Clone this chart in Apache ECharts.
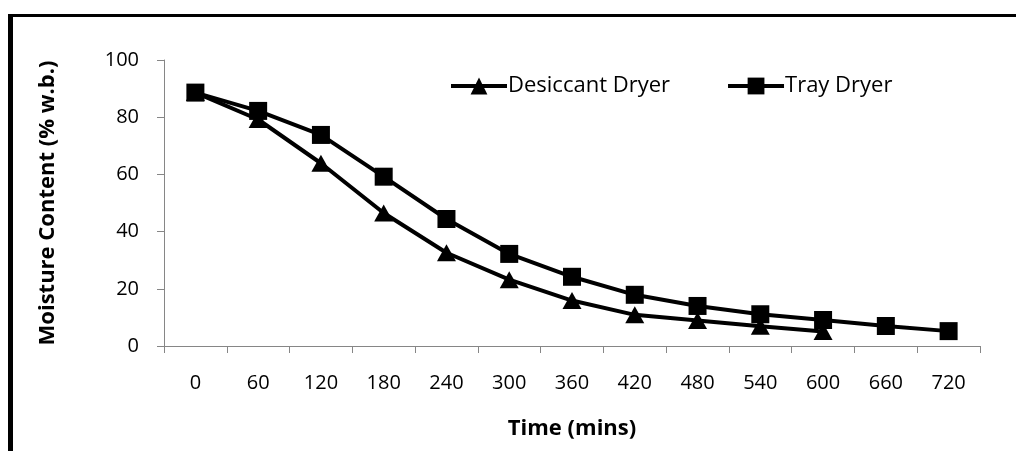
<!DOCTYPE html>
<html>
<head>
<meta charset="utf-8">
<script src="https://cdn.jsdelivr.net/npm/echarts@6/dist/echarts.min.js"></script>
<style>html,body{margin:0;padding:0;background:#fff;}#c{width:1016px;height:451px;}</style>
</head>
<body>
<div id="c"></div>
<script>
const categories = ['0','60','120','180','240','300','360','420','480','540','600','660','720'];
const desiccant = [88.6, 79.2, 63.9, 46.5, 32.6, 23.2, 15.9, 10.9, 8.9, 6.9, 5.1];
const tray = [88.6, 82.2, 73.8, 59.2, 44.4, 32.2, 24.2, 17.9, 14.0, 11.1, 9.1, 7.0, 5.2];
const yTicks = {min: 0, max: 100, interval: 20};

const font = '"Open Sans", "Noto Sans", sans-serif';
const chart = echarts.init(document.getElementById('c'), null, {renderer: 'canvas'});
chart.setOption({
  animation: false,
  backgroundColor: '#fff',
  graphic: [
    {type: 'line', shape: {x1: 10.5, y1: 14, x2: 10.5, y2: 460}, style: {stroke: '#000', lineWidth: 5}},
    {type: 'line', shape: {x1: 8, y1: 15.5, x2: 1030, y2: 15.5}, style: {stroke: '#000', lineWidth: 3}}
  ],
  grid: {left: 164, right: 36, top: 60, bottom: 105},
  legend: {
    top: 70, left: 444,
    itemGap: 56,
    itemWidth: 56, itemHeight: 21,
    lineStyle: {width: 4, color: '#000'},
    textStyle: {fontFamily: font, fontSize: 22, color: '#000', padding: [0,0,0,-4]},
    data: ['Desiccant Dryer', 'Tray Dryer']
  },
  xAxis: {
    type: 'category',
    data: categories,
    boundaryGap: true,
    name: 'Time (mins)',
    nameLocation: 'middle',
    nameGap: 72,
    nameTextStyle: {fontFamily: font, fontSize: 22, fontWeight: 'bold', color: '#000'},
    axisLine: {lineStyle: {color: '#868686', width: 1}},
    axisTick: {show: true, length: 7, lineStyle: {color: '#868686'}},
    axisLabel: {fontFamily: font, fontSize: 20, color: '#000', margin: 27}
  },
  yAxis: {
    type: 'value',
    min: yTicks.min, max: yTicks.max, interval: yTicks.interval,
    name: 'Moisture Content (% w.b.)',
    nameLocation: 'middle',
    nameGap: 105,
    nameTextStyle: {fontFamily: font, fontSize: 22, fontWeight: 'bold', color: '#000'},
    axisLine: {show: true, lineStyle: {color: '#868686', width: 1}},
    axisTick: {show: true, length: 7, lineStyle: {color: '#868686'}},
    splitLine: {show: false},
    axisLabel: {fontFamily: font, fontSize: 20, color: '#000', margin: 25}
  },
  series: [
    {
      name: 'Desiccant Dryer', type: 'line', data: desiccant,
      symbol: 'triangle', symbolSize: [19, 17],
      lineStyle: {color: '#000', width: 4},
      itemStyle: {color: '#000'}
    },
    {
      name: 'Tray Dryer', type: 'line', data: tray,
      symbol: 'rect', symbolSize: 18,
      lineStyle: {color: '#000', width: 4},
      itemStyle: {color: '#000'}
    }
  ]
});
</script>
</body>
</html>
